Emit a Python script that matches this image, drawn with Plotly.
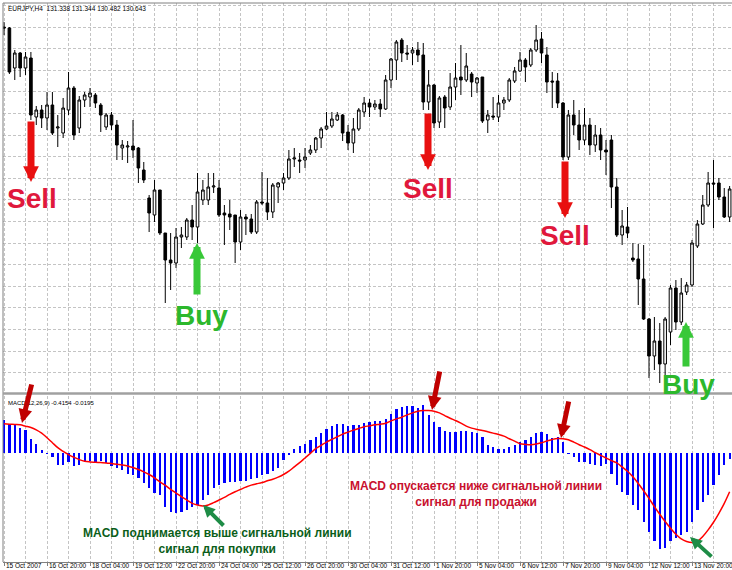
import plotly.graph_objects as go

# ---------------- data ----------------
opens = [167.46,167.44,166.64,166.94,166.64,166.84,165.66,165.80,165.64,165.90,
         165.44,165.34,165.80,166.24,165.44,166.00,166.06,166.10,165.90,165.46,
         165.70,165.50,165.04,165.06,165.08,165.04,164.60,164.04,163.70,164.20,
         163.34,162.80,162.74,163.26,163.26,163.60,163.46,164.00,164.00,164.26,
         164.24,163.74,163.72,163.70,163.16,163.66,163.62,163.36,163.96,163.94,
         163.76,164.26,164.34,164.44,164.82,164.80,164.80,164.94,165.00,165.24,
         165.42,165.48,165.60,165.70,165.36,165.14,165.42,165.76,165.94,165.86,
         165.92,165.82,166.40,166.80,167.20,166.94,166.94,167.00,166.90,165.96,
         166.30,165.56,166.06,165.86,166.26,166.46,166.40,166.52,166.34,166.46,
         165.60,165.68,165.66,165.94,166.00,166.38,166.58,166.80,166.70,167.00,
         167.22,166.90,166.38,166.38,165.94,164.86,165.70,165.50,165.20,165.50,
         165.10,165.30,165.00,165.20,164.26,163.30,163.46,162.84,162.82,162.42,
         161.62,160.88,161.18,160.72,161.36,162.24,161.56,162.16,162.30,163.08,
         163.52,163.90,164.34,164.34,164.06,163.66]
highs = [167.56,167.46,167.00,166.96,166.96,166.96,165.88,165.90,166.16,166.16,
         165.70,166.04,166.56,166.28,166.08,166.16,166.24,166.14,165.94,165.74,
         165.76,165.60,165.20,165.18,165.60,165.06,164.76,164.10,164.40,164.20,
         163.34,163.34,163.44,163.46,163.64,163.90,164.54,164.40,164.54,164.54,
         164.40,163.90,164.00,163.70,163.80,163.72,163.72,164.00,164.56,164.44,
         164.34,164.36,164.54,165.00,165.04,164.94,165.04,165.10,165.26,165.46,
         165.76,165.76,165.76,165.72,165.50,165.64,165.84,166.06,166.02,166.00,
         166.02,166.50,166.84,167.20,167.24,167.10,167.06,167.16,167.14,166.60,
         166.32,166.08,166.10,166.54,166.74,167.10,166.94,166.56,166.46,166.46,
         165.80,166.06,166.10,166.06,166.44,166.66,166.96,166.84,167.04,167.50,
         167.36,167.06,166.56,166.54,165.96,165.80,166.00,165.80,165.84,165.64,
         165.50,165.44,165.20,165.30,164.44,163.80,163.86,163.14,163.12,163.10,
         161.64,161.66,161.54,161.66,162.30,162.40,162.44,162.36,163.20,163.60,
         164.10,164.56,164.80,164.44,164.24,164.28]
lows = [167.30,166.52,166.40,166.46,166.50,165.60,165.50,165.44,165.40,165.30,
        165.06,165.24,165.70,165.20,165.34,165.86,165.86,165.84,165.36,165.40,
        165.40,164.80,164.80,164.74,164.84,164.34,164.34,163.36,163.56,163.30,
        161.94,162.20,162.64,163.04,163.20,163.20,163.14,163.90,163.90,164.14,
        163.66,163.10,163.40,162.74,163.00,163.30,163.32,163.32,163.90,163.60,
        163.64,163.94,164.20,164.40,164.66,164.54,164.64,164.90,164.94,165.04,
        165.40,165.44,165.58,165.18,165.00,164.94,165.38,165.66,165.66,165.80,
        165.66,165.80,166.24,166.40,166.76,166.80,166.70,166.76,165.80,165.80,
        165.44,165.44,165.44,165.80,166.00,166.10,166.36,166.06,166.14,165.54,
        165.34,165.60,165.56,165.80,165.96,166.34,166.56,166.36,166.66,166.96,
        166.74,166.14,165.84,165.84,164.80,164.80,165.30,165.00,165.10,164.90,
        164.96,164.80,164.50,163.84,163.26,163.10,163.24,162.76,161.90,161.60,
        160.44,160.60,160.34,160.40,161.10,161.40,161.50,162.10,162.26,163.04,
        163.50,163.86,163.44,164.00,163.64,163.56]
closes = [167.44,166.56,166.94,166.64,166.86,165.70,165.80,165.64,165.90,165.34,
          165.46,165.84,166.24,165.30,166.00,166.10,166.14,165.94,165.70,165.70,
          165.50,165.10,165.10,165.08,165.00,164.64,164.40,163.74,164.20,163.34,
          162.80,162.74,163.26,163.30,163.60,163.46,164.16,164.20,164.26,164.28,
          163.70,163.70,163.66,163.16,163.66,163.62,163.36,163.96,163.94,163.76,
          164.30,164.34,164.44,164.82,164.84,164.78,164.86,165.00,165.24,165.42,
          165.48,165.62,165.70,165.34,165.14,165.42,165.80,165.94,165.86,165.92,
          165.82,166.40,166.82,167.16,166.94,166.92,167.00,166.90,165.96,166.30,
          165.54,166.04,165.84,166.26,166.44,166.40,166.68,166.36,166.44,165.58,
          165.70,165.66,165.94,166.00,166.40,166.58,166.80,166.66,167.00,167.20,
          166.94,166.36,166.36,165.94,164.86,165.70,165.50,165.20,165.50,165.10,
          165.30,165.00,164.96,164.26,163.30,163.48,163.34,162.80,162.42,161.62,
          160.88,161.18,160.72,161.62,162.24,161.56,162.14,162.30,163.14,163.52,
          163.90,164.34,164.32,164.06,163.66,164.22]

macd_hist = [0.396,0.348,0.340,0.296,0.276,0.168,0.100,0.028,-0.012,-0.052,
             -0.144,-0.152,-0.112,-0.160,-0.152,-0.112,-0.104,-0.112,-0.104,-0.124,
             -0.160,-0.184,-0.212,-0.252,-0.272,-0.304,-0.372,-0.432,-0.492,-0.512,
             -0.652,-0.720,-0.732,-0.712,-0.692,-0.652,-0.632,-0.572,-0.512,-0.424,
             -0.392,-0.372,-0.360,-0.352,-0.344,-0.344,-0.312,-0.304,-0.272,-0.252,
             -0.224,-0.184,-0.084,-0.024,0.040,0.080,0.108,0.148,0.188,0.240,
             0.280,0.320,0.348,0.348,0.320,0.328,0.336,0.360,0.376,0.384,
             0.388,0.408,0.468,0.528,0.548,0.568,0.568,0.536,0.576,0.456,
             0.368,0.308,0.256,0.248,0.248,0.256,0.256,0.248,0.240,0.188,
             0.096,0.068,0.048,0.040,0.068,0.088,0.128,0.148,0.188,0.240,
             0.248,0.228,0.176,0.188,0.128,-0.012,-0.052,-0.112,-0.112,-0.132,
             -0.152,-0.160,-0.132,-0.252,-0.392,-0.472,-0.512,-0.632,-0.692,-0.832,
             -0.952,-1.072,-1.160,-1.152,-1.072,-1.032,-0.992,-0.952,-0.832,-0.692,
             -0.592,-0.512,-0.392,-0.272,-0.152,-0.080]
signal = [0.348,0.344,0.340,0.336,0.320,0.304,0.276,0.236,0.180,0.120,
          0.060,0.016,-0.024,-0.056,-0.084,-0.104,-0.112,-0.116,-0.120,-0.124,
          -0.132,-0.140,-0.148,-0.160,-0.180,-0.204,-0.232,-0.264,-0.304,-0.352,
          -0.396,-0.444,-0.488,-0.532,-0.572,-0.612,-0.632,-0.644,-0.632,-0.604,
          -0.572,-0.540,-0.504,-0.472,-0.444,-0.416,-0.392,-0.376,-0.360,-0.340,
          -0.320,-0.296,-0.264,-0.224,-0.172,-0.120,-0.064,-0.008,0.048,0.088,
          0.128,0.160,0.192,0.224,0.248,0.272,0.292,0.312,0.324,0.336,
          0.344,0.356,0.384,0.408,0.428,0.456,0.480,0.500,0.508,0.508,
          0.500,0.480,0.448,0.416,0.388,0.356,0.320,0.296,0.280,0.268,
          0.252,0.236,0.220,0.200,0.168,0.140,0.108,0.100,0.096,0.104,
          0.120,0.140,0.160,0.172,0.168,0.156,0.128,0.096,0.068,0.036,
          0.000,-0.032,-0.064,-0.096,-0.124,-0.172,-0.224,-0.292,-0.372,-0.460,
          -0.552,-0.652,-0.744,-0.832,-0.912,-0.984,-1.040,-1.072,-1.084,-1.072,
          -1.012,-0.932,-0.840,-0.732,-0.612,-0.472]

date_labels = ["15 Oct 2007", "16 Oct 20:00", "18 Oct 04:00", "19 Oct 12:00",
               "22 Oct 20:00", "24 Oct 04:00", "25 Oct 12:00", "26 Oct 20:00",
               "30 Oct 04:00", "31 Oct 12:00", "1 Nov 20:00", "5 Nov 04:00",
               "6 Nov 12:00", "7 Nov 20:00", "9 Nov 04:00", "12 Nov 12:00",
               "13 Nov 20:00"]
label_every = 8

title_text = "EURJPY,H4  131.338 131.344 130.482 130.643"
macd_text = "MACD(12,26,9) -0.4154 -0.0195"

# ---------------- layout helpers ----------------
W, H = 732, 570
ML, MR, MT, MB = 3, 0, 3, 8
PW, PH = W - ML - MR, H - MT - MB
FONT = "Liberation Sans, Arial, sans-serif"


def px(x):
    return (x - ML) / PW


def py(y):
    return (H - MB - y) / PH


n = len(opens)
idx = list(range(n))
xr = [-0.19, 135.44]
GRID = "#c4c4c4"

fig = go.Figure()
fig.add_trace(go.Candlestick(
    x=idx, open=opens, high=highs, low=lows, close=closes,
    xaxis="x", yaxis="y", whiskerwidth=0,
    increasing=dict(line=dict(color="black", width=1), fillcolor="white"),
    decreasing=dict(line=dict(color="black", width=1), fillcolor="black"),
    showlegend=False, hoverinfo="skip"))
fig.add_trace(go.Bar(
    x=idx, y=macd_hist, xaxis="x2", yaxis="y2", width=0.42,
    marker=dict(color="#0000ff", line=dict(width=0)),
    showlegend=False, hoverinfo="skip"))
fig.add_trace(go.Scatter(
    x=idx, y=signal, xaxis="x2", yaxis="y2", mode="lines",
    line=dict(color="#ff0000", width=1.5, shape="spline"),
    showlegend=False, hoverinfo="skip"))

fig.update_layout(
    width=W, height=H, margin=dict(l=ML, r=MR, t=MT, b=MB),
    paper_bgcolor="white", plot_bgcolor="white",
    font=dict(family=FONT, color="black"),
    bargap=0, hovermode=False,
    xaxis=dict(domain=[0, 1], range=xr, anchor="y", showticklabels=False,
               showgrid=True, gridcolor=GRID, griddash="3px,2px", gridwidth=1,
               tick0=0, dtick=4, zeroline=False, rangeslider=dict(visible=False),
               fixedrange=True),
    yaxis=dict(domain=[py(392), 1], range=[160.16, 167.94], showticklabels=False,
               showgrid=True, gridcolor=GRID, griddash="3px,2px", gridwidth=1,
               tick0=167.46, dtick=0.432, zeroline=False),
    xaxis2=dict(domain=[0, 1], range=xr, anchor="y2", showticklabels=False,
                tickvals=list(range(0, n, label_every)), ticks="outside", ticklen=3,
                tickcolor="#808080", showline=True, linecolor="#808080", linewidth=1,
                showgrid=True, gridcolor=GRID, griddash="3px,2px", gridwidth=1,
                minor=dict(dtick=4, tick0=0, showgrid=True, gridcolor=GRID,
                           griddash="3px,2px", gridwidth=1),
                zeroline=False),
    yaxis2=dict(domain=[0, py(396)], range=[-1.32, 0.684], showticklabels=False,
                showgrid=False, zeroline=False),
)

shapes = [
    dict(type="line", xref="paper", yref="paper", x0=0, x1=0, y0=0, y1=1,
         line=dict(color="#808080", width=1)),
    dict(type="line", xref="paper", yref="paper", x0=0, x1=1, y0=1, y1=1,
         line=dict(color="#808080", width=1)),
    dict(type="line", xref="paper", yref="paper", x0=0, x1=1, y0=py(393.5), y1=py(393.5),
         line=dict(color="#a0a0a0", width=2.5)),
]
fig.update_layout(shapes=shapes)

ann = []
ann.append(dict(x=px(6), y=py(8.5), xref="paper", yref="paper", text=title_text,
                showarrow=False, xanchor="left", yanchor="middle",
                font=dict(size=6.5, color="black", family=FONT)))
ann.append(dict(x=px(6), y=py(403), xref="paper", yref="paper", text=macd_text,
                showarrow=False, xanchor="left", yanchor="middle",
                font=dict(size=6, color="black", family=FONT)))

for k, lab in enumerate(date_labels):
    ann.append(dict(x=k * label_every, y=py(565.5), xref="x2", yref="paper", text=lab,
                    showarrow=False, xanchor="left", yanchor="middle",
                    font=dict(size=6.5, color="black", family=FONT)))

SELL = "#e0183c"
BUY = "#2cb82c"


def big_text(t, x, y, color):
    return dict(x=px(x), y=py(y), xref="paper", yref="paper", text="<b>%s</b>" % t,
                showarrow=False, xanchor="center", yanchor="middle",
                font=dict(size=28, color=color, family=FONT))


ann += [big_text("Sell", 32, 199, SELL), big_text("Sell", 428, 189, SELL),
        big_text("Sell", 565, 235, SELL), big_text("Buy", 201, 315, BUY),
        big_text("Buy", 688, 384, BUY)]


def arrow(tip, tail, color, w, size):
    return dict(x=px(tip[0]), y=py(tip[1]), xref="paper", yref="paper",
                ax=tail[0] - tip[0], ay=tail[1] - tip[1], axref="pixel", ayref="pixel",
                text="", showarrow=True, arrowhead=2, arrowsize=size, arrowwidth=w,
                arrowcolor=color, standoff=0)


ann += [arrow((31, 182), (31, 120), "#e81010", 7, 0.45),
        arrow((428, 170), (428, 112), "#e81010", 7, 0.45),
        arrow((565, 218), (565, 160), "#e81010", 7, 0.45),
        arrow((197, 243), (197, 296), "#38c838", 7, 0.45),
        arrow((686, 322), (686, 368), "#38c838", 7, 0.45)]

ann += [arrow((22, 423), (32, 383), "#c00000", 5, 0.55),
        arrow((432, 410), (440, 370), "#c00000", 5, 0.55),
        arrow((561, 438), (569, 400), "#c00000", 5, 0.55),
        arrow((203, 505), (225, 527), "#1e8c46", 4, 0.6),
        arrow((690, 537), (713, 558), "#1e8c46", 4, 0.6)]

ann.append(dict(x=px(217), y=py(541), xref="paper", yref="paper",
                text="<b>MACD поднимается выше сигнальной линии<br>сигнал для покупки</b>",
                showarrow=False, xanchor="center", yanchor="middle", align="center",
                font=dict(size=12, color="#0b5e1a", family=FONT)))
ann.append(dict(x=px(476), y=py(494), xref="paper", yref="paper",
                text="<b>MACD опускается ниже сигнальной линии<br>сигнал для продажи</b>",
                showarrow=False, xanchor="center", yanchor="middle", align="center",
                font=dict(size=12, color="#c8102e", family=FONT)))

fig.update_layout(annotations=ann)
fig.write_html("out.html", config={"displayModeBar": False, "staticPlot": True},
               post_script="document.body.style.margin='0';document.body.style.overflow='hidden';")
